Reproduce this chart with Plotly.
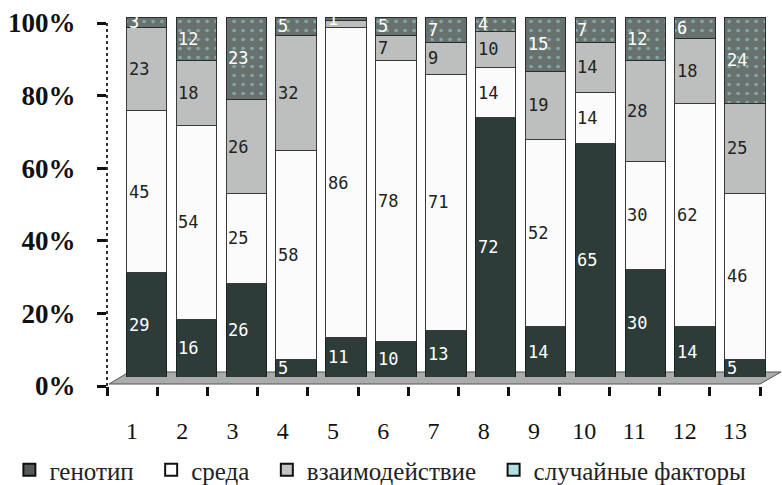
import plotly.graph_objects as go

# Data: shares of variance (%) by factor for 13 traits
categories = [str(i) for i in range(1, 14)]
genotype = [29, 16, 26, 5, 11, 10, 13, 72, 14, 65, 30, 14, 5]
environment = [45, 54, 25, 58, 86, 78, 71, 14, 52, 14, 30, 62, 46]
interaction = [23, 18, 26, 32, 2, 7, 9, 10, 19, 14, 28, 18, 25]
random_factors = [3, 12, 23, 5, 1, 5, 7, 4, 15, 7, 12, 6, 24]

series_names = ["генотип", "среда", "взаимодействие", "случайные факторы"]
y_tick_values = [0, 20, 40, 60, 80, 100]
y_tick_labels = ["0%", "20%", "40%", "60%", "80%", "100%"]

W, H = 782, 485


def fx(px):
    return px / W


def fy(px):
    return (H - px) / H


SERIF = "Liberation Serif, Times New Roman, serif"
LABEL_FONT = "DejaVu Sans Mono, monospace"

fig = go.Figure()

bar_styles = [
    dict(color="#2d3b39", line=dict(color="#1c2423", width=1)),
    dict(color="#fbfbfb", line=dict(color="#3a3a3a", width=1)),
    dict(color="#bcbfbe", line=dict(color="#3a3a3a", width=1)),
    dict(color="#67726f", line=dict(color="#2a2f2e", width=1),
         pattern=dict(shape=".", fgcolor="#a6e2e6", bgcolor="#67726f",
                      size=9, solidity=0.12)),
]
series_values = [genotype, environment, interaction, random_factors]

for name, vals, style in zip(series_names, series_values, bar_styles):
    fig.add_trace(go.Bar(
        x=categories, y=vals, name=name, marker=style,
        showlegend=False, hoverinfo="x+y+name",
        xaxis="x", yaxis="y",
    ))

# Legend entries with flat swatches (padded for wider spacing)
legend_colors = ["#555a59", "#ffffff", "#c4c4c4", "#aee0e4"]
pad = "\u00a0" * 2
for k, (name, col) in enumerate(zip(series_names, legend_colors)):
    label = name + (pad if k < len(series_names) - 1 else "")
    fig.add_trace(go.Bar(
        x=[None], y=[None], name=label,
        marker=dict(color=col, line=dict(color="#111111", width=2)),
        xaxis="x", yaxis="y", showlegend=True,
    ))

# Carrier trace for the category axis that holds the tick labels
fig.add_trace(go.Scatter(
    x=categories, y=[0] * len(categories), mode="markers",
    marker=dict(opacity=0), showlegend=False, hoverinfo="skip",
    xaxis="x2", yaxis="y2",
))

# Value labels, left-aligned inside each segment
label_colors = ["#ffffff", "#222222", "#222222", "#ffffff"]
hidden = {(2, 4)}  # interaction label of trait 5 is not shown
for i in range(len(categories)):
    base = 0
    for s, vals in enumerate(series_values):
        v = vals[i]
        if (s, i) not in hidden and v > 0:
            fig.add_annotation(
                x=i, y=base + v / 2, xref="x", yref="y",
                text=str(v), showarrow=False, xanchor="left",
                xshift=-20, font=dict(family=LABEL_FONT, size=17,
                                      color=label_colors[s]),
            )
        base += v

# Floor of the plot
floor = [(109, 384), (760, 384), (781, 372), (129, 372)]
path = "M " + " L ".join(f"{fx(x):.4f},{fy(y):.4f}" for x, y in floor) + " Z"
fig.add_shape(type="path", path=path, xref="paper", yref="paper",
              fillcolor="#a9acab", line=dict(color="#555555", width=1),
              layer="below")

# Dotted value axis line
fig.add_shape(type="line", xref="x2 domain", yref="y2", x0=0, x1=0,
              y0=0, y1=100, line=dict(color="#333333", width=2, dash="dot"))

fig.update_layout(
    width=W, height=H,
    margin=dict(l=0, r=0, t=0, b=0, autoexpand=False),
    paper_bgcolor="white", plot_bgcolor="rgba(0,0,0,0)",
    barmode="stack", bargap=0.19,
    xaxis=dict(domain=[fx(121.6), fx(770)], type="category",
               range=[-0.5, 12.5], showticklabels=False, ticks="",
               showgrid=False, zeroline=False, showline=False,
               anchor="y", automargin=False),
    yaxis=dict(domain=[fy(377), fy(17)], range=[0, 100], visible=False,
               anchor="x", automargin=False),
    xaxis2=dict(domain=[fx(107), fx(760)], type="category",
                range=[-0.5, 12.5], anchor="y2", tickson="boundaries",
                ticks="outside", ticklen=9, tickwidth=2.5,
                tickcolor="#111111", showgrid=False, zeroline=False,
                showline=False, ticklabelstandoff=28, automargin=False,
                tickfont=dict(family=SERIF, size=24, color="#111111")),
    yaxis2=dict(domain=[fy(386), fy(23)], range=[0, 100], anchor="x2",
                tickvals=y_tick_values, ticktext=y_tick_labels,
                ticks="outside", ticklen=9, tickwidth=2.5,
                tickcolor="#111111", showgrid=False, zeroline=False,
                showline=False, ticklabelstandoff=16, automargin=False,
                tickfont=dict(family=SERIF, size=27, color="#111111",
                              weight="bold")),
    legend=dict(orientation="h", x=0.012, y=fy(470), xanchor="left",
                yanchor="middle", font=dict(family=SERIF, size=25,
                                            color="#222222"),
                itemwidth=30, bgcolor="rgba(0,0,0,0)", traceorder="normal"),
    showlegend=True,
)

fig.write_html("out.html")
